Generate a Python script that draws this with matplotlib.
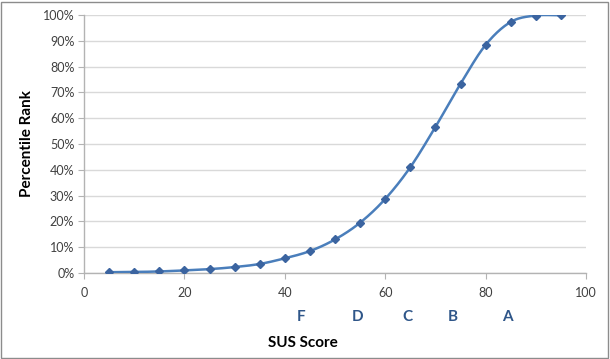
import matplotlib.pyplot as plt
import numpy as np
from matplotlib.patches import Rectangle
from matplotlib.ticker import PercentFormatter

# SUS score -> percentile rank
sus_score = [5, 10, 15, 20, 25, 30, 35, 40, 45, 50, 55, 60, 65, 70, 75, 80, 85, 90, 95]
percentile = [0.3, 0.4, 0.6, 1.0, 1.5, 2.3, 3.5, 5.7, 8.5, 13.0, 19.5, 28.7,
              41.0, 56.6, 73.3, 88.4, 97.3, 99.8, 99.9]

grades = ['F', 'D', 'C', 'B', 'A']
grade_pos = [43.2, 54.4, 64.5, 73.5, 84.3]

LINE = '#4a7ebb'
MARK = '#3b64a0'
GRADE = '#2f5689'
GRID = '#d9d9d9'
AXIS = '#b3b3b3'
TEXT = '#404040'

plt.rcParams['font.family'] = ['Lato', 'DejaVu Sans']


def smooth(x, y, n=20):
    """Catmull-Rom curve through the points, like Excel's smoothed line."""
    x = np.asarray(x, float)
    y = np.asarray(y, float)
    px = np.concatenate([[2 * x[0] - x[1]], x, [2 * x[-1] - x[-2]]])
    py = np.concatenate([[2 * y[0] - y[1]], y, [2 * y[-1] - y[-2]]])
    t = np.linspace(0, 1, n, endpoint=False)[:, None]
    xs, ys = [], []
    for i in range(1, len(px) - 2):
        for p, out in ((px, xs), (py, ys)):
            p0, p1, p2, p3 = p[i - 1:i + 3]
            m1 = (p2 - p0) / 2
            m2 = (p3 - p1) / 2
            h00 = 2 * t**3 - 3 * t**2 + 1
            h10 = t**3 - 2 * t**2 + t
            h01 = -2 * t**3 + 3 * t**2
            h11 = t**3 - t**2
            out.append((h00 * p1 + h10 * m1 + h01 * p2 + h11 * m2).ravel())
    xs.append([x[-1]])
    ys.append([y[-1]])
    return np.concatenate(xs), np.concatenate(ys)


fig = plt.figure(figsize=(6.10, 3.59), dpi=100)
ax = fig.add_axes([84 / 610, 1 - 273 / 359, 502 / 610, 258 / 359])

sx, sy = smooth(sus_score, percentile)
ax.plot(sx, sy, color=LINE, lw=1.8, zorder=3)
ax.plot(sus_score, percentile, ls='none', marker='D', ms=4, color=MARK, zorder=4)

ax.set_xlim(0, 100)
ax.set_ylim(0, 100)
ax.set_xticks(range(0, 101, 20))
ax.set_yticks(range(0, 101, 10))
ax.yaxis.set_major_formatter(PercentFormatter(decimals=0))
ax.grid(axis='y', color=GRID, lw=1)
ax.set_axisbelow(True)
for s in ('top', 'right'):
    ax.spines[s].set_visible(False)
for s in ('left', 'bottom'):
    ax.spines[s].set_color(AXIS)
    ax.spines[s].set_linewidth(1)
ax.tick_params(length=4, color=AXIS, labelsize=9, labelcolor=TEXT, pad=3)
ax.tick_params(axis='x', pad=6)

ax.set_ylabel('Percentile Rank', fontsize=11, fontweight='bold', color='black', labelpad=6)
fig.text(303 / 610, 1 - 343 / 359, 'SUS Score', ha='center', va='center',
         fontsize=11, fontweight='bold', color='black')

for g, pos in zip(grades, grade_pos):
    ax.text(pos, -17, g, ha='center', va='center', fontsize=11, fontweight='bold',
            color=GRADE, clip_on=False)

fig.patches.append(Rectangle((0.002, 0.004), 0.994, 0.99, transform=fig.transFigure,
                             fill=False, ec='#8c8c8c', lw=1))

fig.savefig('out.png', dpi=100)
